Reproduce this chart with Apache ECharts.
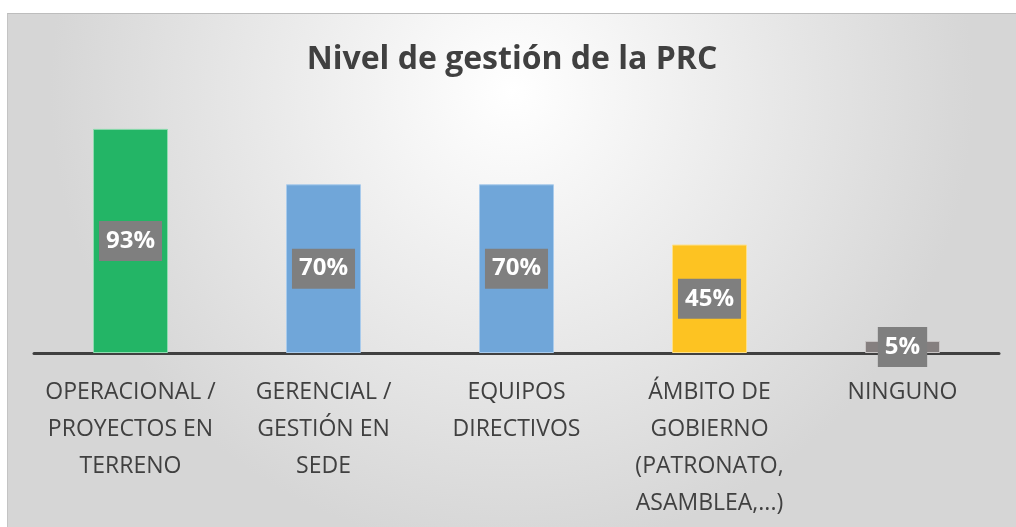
<!DOCTYPE html>
<html>
<head>
<meta charset="utf-8">
<script src="https://cdn.jsdelivr.net/npm/echarts@6/dist/echarts.min.js"></script>
<style>
  html, body { margin: 0; padding: 0; background: #fff; }
  #chart {
    position: absolute;
    left: 7px;
    top: 13px;
    width: 1009px;
    height: 514px;
    border-top: 1px solid #bdbdbd;
    border-left: 1px solid #c4c4c4;
    box-sizing: border-box;
  }
</style>
</head>
<body>
<div id="chart"></div>
<script>
  const categories = [
    'OPERACIONAL /\nPROYECTOS EN\nTERRENO',
    'GERENCIAL /\nGESTIÓN EN\nSEDE',
    'EQUIPOS\nDIRECTIVOS',
    'ÁMBITO DE\nGOBIERNO\n(PATRONATO,\nASAMBLEA,...)',
    'NINGUNO'
  ];
  const values = [93, 70, 70, 45, 5];
  const barColors = ['#23b566', '#70a6d9', '#70a6d9', '#fdc322', '#857f7f'];
  const borderColors = ['#8fdcb0', '#a9cbec', '#a9cbec', '#fde08a', '#c8c4c4'];

  let myChart = echarts.init(document.getElementById('chart'));

  myChart.setOption({
    backgroundColor: {
      type: 'radial',
      x: 0.5, y: 0.15, r: 0.9,
      colorStops: [
        { offset: 0, color: '#ffffff' },
        { offset: 1, color: '#d6d6d6' }
      ]
    },
    title: {
      text: 'Nivel de gestión de la PRC',
      left: 'center',
      top: 25,
      textStyle: {
        fontFamily: 'Open Sans',
        fontSize: 32,
        fontWeight: 'bold',
        color: '#404040'
      }
    },
    grid: {
      left: 26,
      right: 17,
      top: 98,
      bottom: 174
    },
    xAxis: {
      type: 'category',
      data: categories,
      axisLine: { lineStyle: { color: '#404040', width: 3 } },
      axisTick: { show: false },
      axisLabel: {
        interval: 0,
        margin: 21,
        fontFamily: 'Open Sans',
        fontSize: 23,
        lineHeight: 37,
        color: '#404040'
      }
    },
    yAxis: {
      type: 'value',
      min: 0,
      max: 100,
      show: false,
      splitLine: { show: false }
    },
    series: [{
      type: 'bar',
      barWidth: 75,
      data: values.map((v, i) => ({
        value: v,
        itemStyle: { color: barColors[i], borderColor: borderColors[i], borderWidth: 1 }
      })),
      label: {
        show: true,
        position: 'inside',
        formatter: '{c}%',
        backgroundColor: '#7f7f7f',
        padding: [9, 7, 7, 7],
        fontFamily: 'Open Sans',
        fontSize: 24,
        fontWeight: 'bold',
        color: '#ffffff'
      }
    }]
  });
</script>
</body>
</html>
